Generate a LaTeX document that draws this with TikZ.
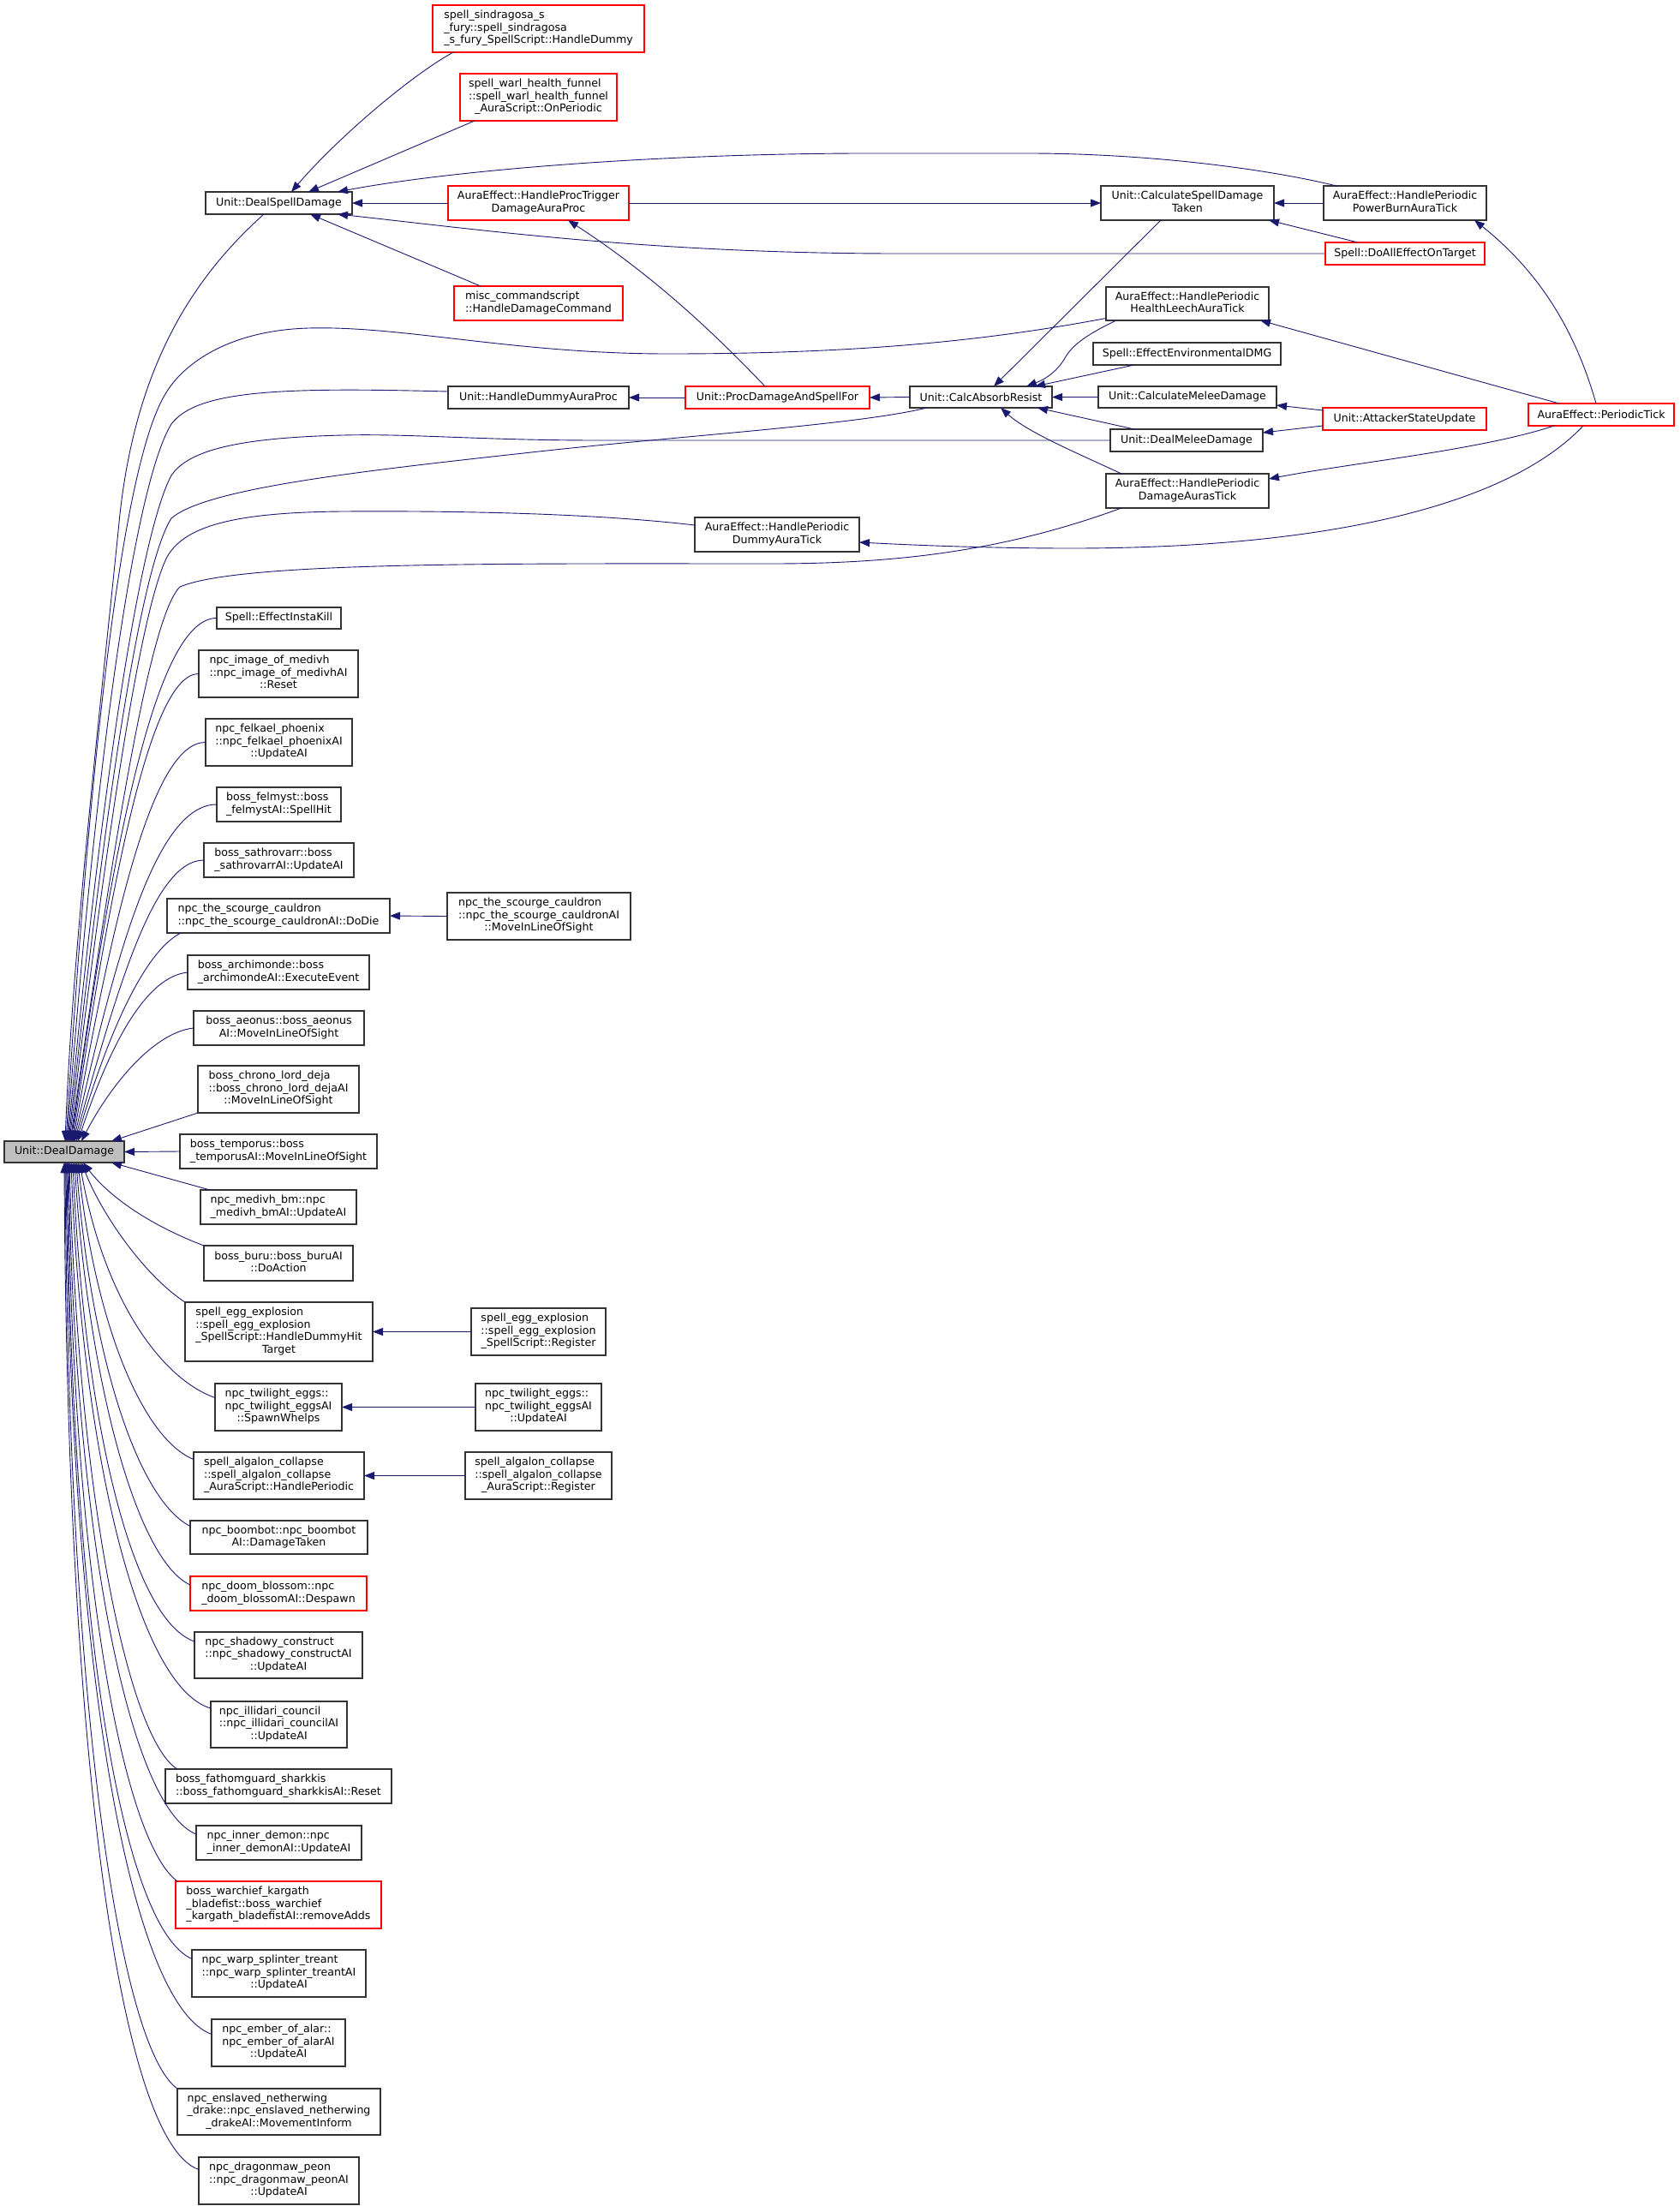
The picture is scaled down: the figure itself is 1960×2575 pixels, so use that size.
\documentclass[tikz,border=0pt]{standalone}
\usepackage{fontspec}
\setmainfont{DejaVu Sans}
\usetikzlibrary{arrows.meta}
\definecolor{edgeblue}{HTML}{191970}
\definecolor{nodered}{HTML}{FF0000}
\definecolor{ddgray}{HTML}{BFBFBF}
\newcommand{\dl}[2]{\begin{tabular}{@{}l@{}}#1\\\multicolumn{1}{@{}c@{}}{#2}\end{tabular}}
\begin{document}
\begin{tikzpicture}[x=1pt,y=-1pt,
  fn/.style={draw=black!80, line width=1.1pt, fill=white, inner sep=0pt, outer sep=0pt,
             font=\fontsize{12.6}{14.5}\selectfont},
  trunc/.style={fn, draw=nodered},
  wh/.style 2 args={minimum width=#1pt, minimum height=#2pt},
  e/.style={draw=edgeblue, line width=0.9pt, -{Triangle[length=12pt,width=9pt]}},
]
\fill[white] (0,0) rectangle (1960,2575);
\path[use as bounding box] (0,0) rectangle (1960,2575);

% ---------- nodes ----------
\node[trunc, wh={247}{55}] (sind) at (628.5,33.5) {\dl{spell\_sindragosa\_s\\\_fury::spell\_sindragosa}{\_s\_fury\_SpellScript::HandleDummy}};
\node[trunc, wh={183}{55}] (warl) at (628.5,113.5) {\dl{spell\_warl\_health\_funnel\\::spell\_warl\_health\_funnel}{\_AuraScript::OnPeriodic}};
\node[fn, wh={171}{26}] (dsd) at (325.5,237) {Unit::DealSpellDamage};
\node[trunc, wh={211}{40}] (hpt) at (628.5,237) {\dl{AuraEffect::HandleProcTrigger}{DamageAuraProc}};
\node[trunc, wh={197}{40}] (misc) at (628.5,354) {\dl{misc\_commandscript}{::HandleDamageCommand}};
\node[fn, wh={202}{40}] (csdt) at (1386,237) {\dl{Unit::CalculateSpellDamage}{Taken}};
\node[fn, wh={190}{40}] (pb) at (1640,237) {\dl{AuraEffect::HandlePeriodic}{PowerBurnAuraTick}};
\node[trunc, wh={186}{26}] (doall) at (1640,296) {Spell::DoAllEffectOnTarget};
\node[fn, wh={190}{39}] (hl) at (1386,354.5) {\dl{AuraEffect::HandlePeriodic}{HealthLeechAuraTick}};
\node[fn, wh={219}{26}] (env) at (1385.5,413) {Spell::EffectEnvironmentalDMG};
\node[fn, wh={166}{25}] (car) at (1145,463.5) {Unit::CalcAbsorbResist};
\node[fn, wh={208}{25}] (cmd) at (1386,463.5) {Unit::CalculateMeleeDamage};
\node[trunc, wh={191}{26}] (asu) at (1639.5,489) {Unit::AttackerStateUpdate};
\node[trunc, wh={170}{26}] (pt) at (1869,484) {AuraEffect::PeriodicTick};
\node[fn, wh={178}{26}] (dmd) at (1385,514) {Unit::DealMeleeDamage};
\node[fn, wh={190}{40}] (dat) at (1386,573) {\dl{AuraEffect::HandlePeriodic}{DamageAurasTick}};
\node[fn, wh={211}{26}] (hdap) at (628.5,464) {Unit::HandleDummyAuraProc};
\node[trunc, wh={215}{26}] (pdsf) at (907.5,464) {Unit::ProcDamageAndSpellFor};
\node[fn, wh={192}{40}] (dat2) at (907,624) {\dl{AuraEffect::HandlePeriodic}{DummyAuraTick}};

\node[fn, wh={145}{25}] (instakill) at (325.5,721.5) {Spell::EffectInstaKill};
\node[fn, wh={186}{55}] (medivh) at (325,786.5) {\dl{npc\_image\_of\_medivh\\::npc\_image\_of\_medivhAI}{::Reset}};
\node[fn, wh={171}{55}] (felkael) at (325.5,866.5) {\dl{npc\_felkael\_phoenix\\::npc\_felkael\_phoenixAI}{::UpdateAI}};
\node[fn, wh={145}{40}] (felmyst) at (325.5,939) {\dl{boss\_felmyst::boss}{\_felmystAI::SpellHit}};
\node[fn, wh={175}{40}] (sathrovarr) at (325.5,1004) {\dl{boss\_sathrovarr::boss}{\_sathrovarrAI::UpdateAI}};
\node[fn, wh={260}{40}] (dodie) at (325,1069) {\dl{npc\_the\_scourge\_cauldron}{::npc\_the\_scourge\_cauldronAI::DoDie}};
\node[fn, wh={214}{55}] (mlos) at (629,1069.5) {\dl{npc\_the\_scourge\_cauldron\\::npc\_the\_scourge\_cauldronAI}{::MoveInLineOfSight}};
\node[fn, wh={212}{40}] (archimonde) at (325,1135) {\dl{boss\_archimonde::boss}{\_archimondeAI::ExecuteEvent}};
\node[fn, wh={199}{40}] (aeonus) at (325.5,1200) {\dl{boss\_aeonus::boss\_aeonus}{AI::MoveInLineOfSight}};
\node[fn, wh={188}{55}] (chrono) at (325,1271.5) {\dl{boss\_chrono\_lord\_deja\\::boss\_chrono\_lord\_dejaAI}{::MoveInLineOfSight}};
\node[fn, wh={230}{40}] (temporus) at (325,1344) {\dl{boss\_temporus::boss}{\_temporusAI::MoveInLineOfSight}};
\node[fn, fill=ddgray, wh={140}{25}] (dd) at (75,1344.5) {Unit::DealDamage};
\node[fn, wh={182}{40}] (medivhbm) at (325,1409) {\dl{npc\_medivh\_bm::npc}{\_medivh\_bmAI::UpdateAI}};
\node[fn, wh={174}{41}] (buru) at (325,1474.5) {\dl{boss\_buru::boss\_buruAI}{::DoAction}};
\node[fn, wh={219}{69}] (egg) at (325.5,1554.5) {\dl{spell\_egg\_explosion\\::spell\_egg\_explosion\\\_SpellScript::HandleDummyHit}{Target}};
\node[fn, wh={157}{55}] (eggreg) at (628.5,1554.5) {\dl{spell\_egg\_explosion\\::spell\_egg\_explosion}{\_SpellScript::Register}};
\node[fn, wh={148}{55}] (twilight) at (325,1642.5) {\dl{npc\_twilight\_eggs::\\npc\_twilight\_eggsAI}{::SpawnWhelps}};
\node[fn, wh={147}{55}] (twupd) at (628.5,1642.5) {\dl{npc\_twilight\_eggs::\\npc\_twilight\_eggsAI}{::UpdateAI}};
\node[fn, wh={199}{55}] (algalon) at (325.5,1722.5) {\dl{spell\_algalon\_collapse\\::spell\_algalon\_collapse}{\_AuraScript::HandlePeriodic}};
\node[fn, wh={171}{55}] (alreg) at (628.5,1722.5) {\dl{spell\_algalon\_collapse\\::spell\_algalon\_collapse}{\_AuraScript::Register}};
\node[fn, wh={207}{39}] (boombot) at (325.5,1794.5) {\dl{npc\_boombot::npc\_boombot}{AI::DamageTaken}};
\node[trunc, wh={206}{40}] (doom) at (325,1860) {\dl{npc\_doom\_blossom::npc}{\_doom\_blossomAI::Despawn}};
\node[fn, wh={196}{54}] (shadowy) at (325,1932) {\dl{npc\_shadowy\_construct\\::npc\_shadowy\_constructAI}{::UpdateAI}};
\node[fn, wh={159}{54}] (illidari) at (325.5,2013) {\dl{npc\_illidari\_council\\::npc\_illidari\_councilAI}{::UpdateAI}};
\node[fn, wh={264}{40}] (sharkkis) at (325,2085) {\dl{boss\_fathomguard\_sharkkis}{::boss\_fathomguard\_sharkkisAI::Reset}};
\node[fn, wh={193}{40}] (inner) at (325.5,2151) {\dl{npc\_inner\_demon::npc}{\_inner\_demonAI::UpdateAI}};
\node[trunc, wh={240}{55}] (kargath) at (325,2223.5) {\dl{boss\_warchief\_kargath\\\_bladefist::boss\_warchief}{\_kargath\_bladefistAI::removeAdds}};
\node[fn, wh={203}{55}] (warp) at (325.5,2303.5) {\dl{npc\_warp\_splinter\_treant\\::npc\_warp\_splinter\_treantAI}{::UpdateAI}};
\node[fn, wh={156}{55}] (ember) at (325,2384.5) {\dl{npc\_ember\_of\_alar::\\npc\_ember\_of\_alarAI}{::UpdateAI}};
\node[fn, wh={237}{54}] (nether) at (325.5,2465) {\dl{npc\_enslaved\_netherwing\\\_drake::npc\_enslaved\_netherwing}{\_drakeAI::MovementInform}};
\node[fn, wh={187}{55}] (dragonmaw) at (325.5,2545.5) {\dl{npc\_dragonmaw\_peon\\::npc\_dragonmaw\_peonAI}{::UpdateAI}};

% ---------- edges into DealSpellDamage ----------
\draw[e] ([xshift=-99.5pt]sind.south) .. controls (480,88) and (395,160) .. ([xshift=14.5pt]dsd.north);
\draw[e] ([xshift=-74.5pt]warl.south) -- ([xshift=34.5pt]dsd.north);
\draw[e] ([xshift=-80pt]pb.north) .. controls (1470,195) and (1330,179) .. (1200,179) -- (1000,179)
   .. controls (750,180) and (520,200) .. ([xshift=68.5pt]dsd.north);
\draw[e] (hpt.west) -- (dsd.east);
\draw[e] (doall.west) -- (1050,296) .. controls (760,296) and (560,268) .. ([xshift=68.5pt]dsd.south);
\draw[e] ([xshift=-67.5pt]misc.north) -- ([xshift=36.5pt]dsd.south);

% ---------- right part ----------
\draw[e] (hpt.east) -- (csdt.west);
\draw[e] (pb.west) -- (csdt.east);
\draw[e] ([xshift=-55pt]doall.north) -- ([xshift=95pt]csdt.south);
\draw[e] ([xshift=-31pt]csdt.south) -- ([xshift=15pt]car.north);
\draw[e] ([xshift=-83pt]hl.south) .. controls (1265,392) and (1250,405) .. (1243,418)
   .. controls (1235,432) and (1222,442) .. ([xshift=53pt]car.north);
\draw[e] ([xshift=-61.5pt]env.south) -- ([xshift=63pt]car.north);
\draw[e] (cmd.west) -- (car.east);
\draw[e] ([xshift=-61pt]dmd.north) -- ([xshift=66pt]car.south);
\draw[e] ([xshift=-77pt]dat.north) .. controls (1260,530) and (1200,505) .. ([xshift=23pt]car.south);
\draw[e] ([yshift=10pt]asu.west) -- ([yshift=3pt]cmd.south east);
\draw[e] ([yshift=-8pt]asu.west) -- ([yshift=9pt]dmd.east);
\draw[e] ([xshift=-6pt]pt.north) .. controls (1840,390) and (1800,320) .. ([xshift=81pt]pb.south);
\draw[e] ([xshift=-49pt]pt.north) -- ([xshift=85pt]hl.south);
\draw[e] ([xshift=-55pt]pt.south) .. controls (1730,525) and (1580,540) .. ([yshift=14pt]dat.east);
\draw[e] ([xshift=-21pt]pt.south) .. controls (1760,590) and (1550,640) .. (1250,640)
   .. controls (1150,640) and (1060,636) .. ([yshift=-9pt]dat2.east);
\draw[e] (car.west) -- (pdsf.east);
\draw[e] (pdsf.west) -- (hdap.east);
\draw[e] ([xshift=-14.5pt]pdsf.north) .. controls (830,385) and (760,320) .. ([xshift=34.5pt]hpt.south);

% ---------- long edges into DealDamage (top) ----------
\draw[e] ([xshift=-17.5pt]dsd.south) .. controls (230,320) and (160,420) .. (140,600)
   .. controls (120,800) and (85,1100) .. ([xshift=1pt]dd.north);
\draw[e] ([yshift=-17pt]hl.west) .. controls (1150,398) and (1000,413) .. (780,413)
   .. controls (600,413) and (470,380) .. (360,383)
   .. controls (260,386) and (210,430) .. (193,460)
   .. controls (150,530) and (110,800) .. ([xshift=2pt]dd.north);
\draw[e] ([yshift=7pt]hdap.west) .. controls (330,452) and (230,455) .. (200,495)
   .. controls (160,560) and (115,850) .. ([xshift=3pt]dd.north);
\draw[e] (dmd.west) -- (700,514) .. controls (560,514) and (480,506) .. (400,508)
   .. controls (280,511) and (220,525) .. (200,555)
   .. controls (165,620) and (120,900) .. ([xshift=4pt]dd.north);
\draw[e] ([xshift=20pt]car.south west) .. controls (1000,496) and (800,508) .. (620,528)
   .. controls (420,550) and (240,570) .. (200,605)
   .. controls (165,660) and (125,920) .. ([xshift=5pt]dd.north);
\draw[e] ([yshift=11pt]dat2.west) .. controls (700,600) and (550,596) .. (400,597)
   .. controls (270,598) and (215,615) .. (195,650)
   .. controls (165,710) and (128,950) .. ([xshift=6pt]dd.north);
\draw[e] ([xshift=18pt]dat.south west) .. controls (1180,640) and (1060,658) .. (900,658)
   .. controls (600,658) and (280,655) .. (210,685)
   .. controls (175,720) and (135,970) .. ([xshift=7pt]dd.north);

% ---------- column callers above DealDamage ----------
\draw[e] (instakill.west) .. controls (180,721) and (130,1000) .. ([xshift=8pt]dd.north);
\draw[e] (medivh.west) .. controls (175,786) and (130,1030) .. ([xshift=9pt]dd.north);
\draw[e] (felkael.west) .. controls (178,866) and (132,1070) .. ([xshift=10pt]dd.north);
\draw[e] (felmyst.west) .. controls (183,939) and (136,1110) .. ([xshift=11pt]dd.north);
\draw[e] (sathrovarr.west) .. controls (180,1004) and (138,1150) .. ([xshift=12pt]dd.north);
\draw[e] ([xshift=16pt]dodie.south west) .. controls (170,1110) and (128,1200) .. ([xshift=14pt]dd.north);
\draw[e] (archimonde.west) .. controls (170,1140) and (128,1220) .. ([xshift=16pt]dd.north);
\draw[e] (aeonus.west) .. controls (180,1205) and (130,1265) .. ([xshift=20pt]dd.north);
\draw[e] (chrono.south west) -- ([xshift=-15pt]dd.north east);
\draw[e] (temporus.west) -- (dd.east);

% ---------- column callers below DealDamage ----------
\draw[e] ([xshift=11pt]medivhbm.north west) -- ([xshift=-15pt]dd.south east);
\draw[e] (buru.north west) .. controls (180,1432) and (130,1400) .. ([xshift=22pt]dd.south);
\draw[e] (egg.north west) .. controls (170,1490) and (120,1420) .. ([xshift=20pt]dd.south);
\draw[e] ([yshift=11pt]twilight.west) .. controls (190,1610) and (122,1520) .. ([xshift=18pt]dd.south);
\draw[e] ([yshift=19pt]algalon.west) .. controls (168,1680) and (112,1550) .. ([xshift=16pt]dd.south);
\draw[e] ([yshift=13pt]boombot.west) .. controls (160,1750) and (106,1580) .. ([xshift=14pt]dd.south);
\draw[e] ([yshift=10pt]doom.west) .. controls (157,1820) and (102,1600) .. ([xshift=12pt]dd.south);
\draw[e] ([yshift=16pt]shadowy.west) .. controls (152,1890) and (98,1650) .. ([xshift=10pt]dd.south);
\draw[e] ([yshift=19pt]illidari.west) .. controls (162,1970) and (96,1700) .. ([xshift=8pt]dd.south);
\draw[e] ([xshift=14pt]sharkkis.north west) .. controls (150,2030) and (92,1750) .. ([xshift=6pt]dd.south);
\draw[e] ([yshift=10pt]inner.west) .. controls (152,2110) and (88,1800) .. ([xshift=5pt]dd.south);
\draw[e] ([xshift=2pt]kargath.north west) .. controls (145,2150) and (86,1850) .. ([xshift=4pt]dd.south);
\draw[e] ([yshift=17pt]warp.west) .. controls (142,2250) and (84,1900) .. ([xshift=3pt]dd.south);
\draw[e] ([yshift=10pt]ember.west) .. controls (152,2340) and (82,1950) .. ([xshift=2pt]dd.south);
\draw[e] (nether.north west) .. controls (140,2390) and (80,2000) .. ([xshift=1pt]dd.south);
\draw[e] ([yshift=13pt]dragonmaw.west) .. controls (140,2500) and (78,2050) .. (dd.south);

% ---------- second-level callers ----------
\draw[e] (mlos.west) -- (dodie.east);
\draw[e] (eggreg.west) -- (egg.east);
\draw[e] (twupd.west) -- (twilight.east);
\draw[e] (alreg.west) -- (algalon.east);
\end{tikzpicture}
\end{document}
